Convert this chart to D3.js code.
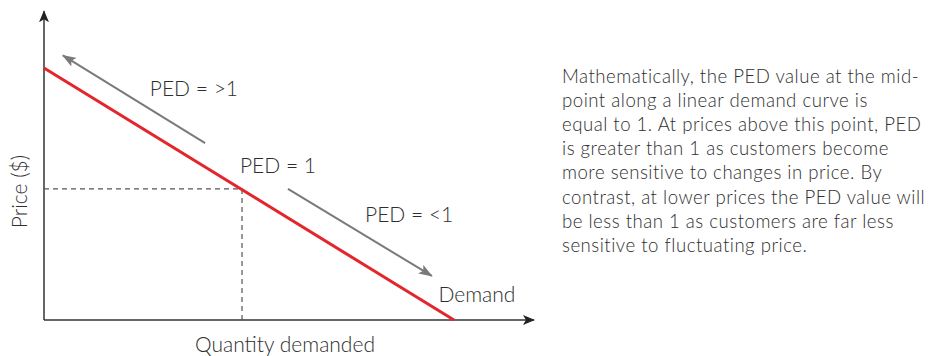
<!DOCTYPE html>
<html>
<head>
<meta charset="utf-8">
<script src="https://cdnjs.cloudflare.com/ajax/libs/d3/7.8.5/d3.min.js"></script>
<style>
  body { margin: 0; background: #fff; }
  text { font-family: Lato, "Open Sans", sans-serif; fill: #2e2e2e; font-weight: 300; }
</style>
</head>
<body>
<div id="chart"></div>
<script>
// data (quantity, price) in chart units
const demand = [[0, 10], [10, 0]];
const midPoint = [4.83, 5.2];
const arrows = [
  { from: [3.93, 7.02], to: [0.46, 10.5] },
  { from: [5.95, 5.2], to: [9.46, 1.75] }
];
const labels = [
  { text: 'PED = >1', q: 2.58, p: 8.9 },
  { text: 'PED = 1', q: 4.78, p: 5.85 },
  { text: 'PED = <1', q: 7.83, p: 3.9 },
  { text: 'Demand', q: 9.62, p: 0.72 }
];
const paragraph = [
  'Mathematically, the PED value at the mid-',
  'point along a linear demand curve is',
  'equal to 1. At prices above this point, PED',
  'is greater than 1 as customers become',
  'more sensitive to changes in price. By',
  'contrast, at lower prices the PED value will',
  'be less than 1 as customers are far less',
  'sensitive to fluctuating price.'
];

const svg = d3.select('#chart')
  .append('svg')
  .attr('width', 931)
  .attr('height', 356);

const x = d3.scaleLinear().domain([0, 12]).range([44, 536]);
const y = d3.scaleLinear().domain([0, 12]).range([320, 17.6]);

const defs = svg.append('defs');
defs.append('marker')
  .attr('id', 'axisHead')
  .attr('viewBox', '0 0 12 10')
  .attr('refX', 11).attr('refY', 5)
  .attr('markerWidth', 12).attr('markerHeight', 10)
  .attr('markerUnits', 'userSpaceOnUse')
  .attr('orient', 'auto')
  .append('path')
  .attr('d', 'M0,0 L12,5 L0,10 L3,5 Z')
  .style('fill', '#222');
defs.append('marker')
  .attr('id', 'grayHead')
  .attr('viewBox', '0 0 14 10')
  .attr('refX', 13).attr('refY', 5)
  .attr('markerWidth', 14).attr('markerHeight', 10)
  .attr('markerUnits', 'userSpaceOnUse')
  .attr('orient', 'auto')
  .append('path')
  .attr('d', 'M0,0 L14,5 L0,10 L3,5 Z')
  .style('fill', '#7a7a7a');

// axes
svg.append('line')
  .attr('x1', x(0)).attr('y1', y(0))
  .attr('x2', x(0)).attr('y2', y(12.25))
  .style('stroke', '#333').style('stroke-width', 1.5)
  .attr('marker-end', 'url(#axisHead)');
svg.append('line')
  .attr('x1', x(0)).attr('y1', y(0))
  .attr('x2', x(11.95)).attr('y2', y(0))
  .style('stroke', '#333').style('stroke-width', 1.5)
  .attr('marker-end', 'url(#axisHead)');

// dashed guides
svg.append('path')
  .attr('d', `M${x(0)},${y(midPoint[1])} H${x(midPoint[0])} V${y(0)}`)
  .style('fill', 'none')
  .style('stroke', '#555')
  .style('stroke-width', 1.2)
  .style('stroke-dasharray', '5,4');

// demand line
svg.append('path')
  .datum(demand)
  .attr('d', d3.line().x(d => x(d[0])).y(d => y(d[1])))
  .style('fill', 'none')
  .style('stroke', '#e3262c')
  .style('stroke-width', 3);

// gray arrows
svg.selectAll('.ped-arrow')
  .data(arrows)
  .enter()
  .append('line')
  .attr('class', 'ped-arrow')
  .attr('x1', d => x(d.from[0])).attr('y1', d => y(d.from[1]))
  .attr('x2', d => x(d.to[0])).attr('y2', d => y(d.to[1]))
  .style('stroke', '#7a7a7a').style('stroke-width', 2)
  .attr('marker-end', 'url(#grayHead)');

// labels
svg.selectAll('.lbl')
  .data(labels)
  .enter()
  .append('text')
  .attr('class', 'lbl')
  .attr('x', d => x(d.q))
  .attr('y', d => y(d.p))
  .style('font-size', '21px')
  .text(d => d.text);

// axis titles
svg.append('text')
  .attr('x', 285)
  .attr('y', 352)
  .attr('text-anchor', 'middle')
  .style('font-size', '21px')
  .text('Quantity demanded');
svg.append('text')
  .attr('transform', `translate(27,${y(5.1)}) rotate(-90)`)
  .attr('text-anchor', 'middle')
  .style('font-size', '21px')
  .text('Price ($)');

// explanation
svg.append('text')
  .attr('x', 562)
  .attr('y', 83)
  .style('font-size', '18.6px')
  .style('letter-spacing', '0.5px')
  .selectAll('tspan')
  .data(paragraph)
  .enter()
  .append('tspan')
  .attr('x', 562)
  .attr('dy', (d, i) => i === 0 ? 0 : 24.1)
  .text(d => d);
</script>
</body>
</html>
